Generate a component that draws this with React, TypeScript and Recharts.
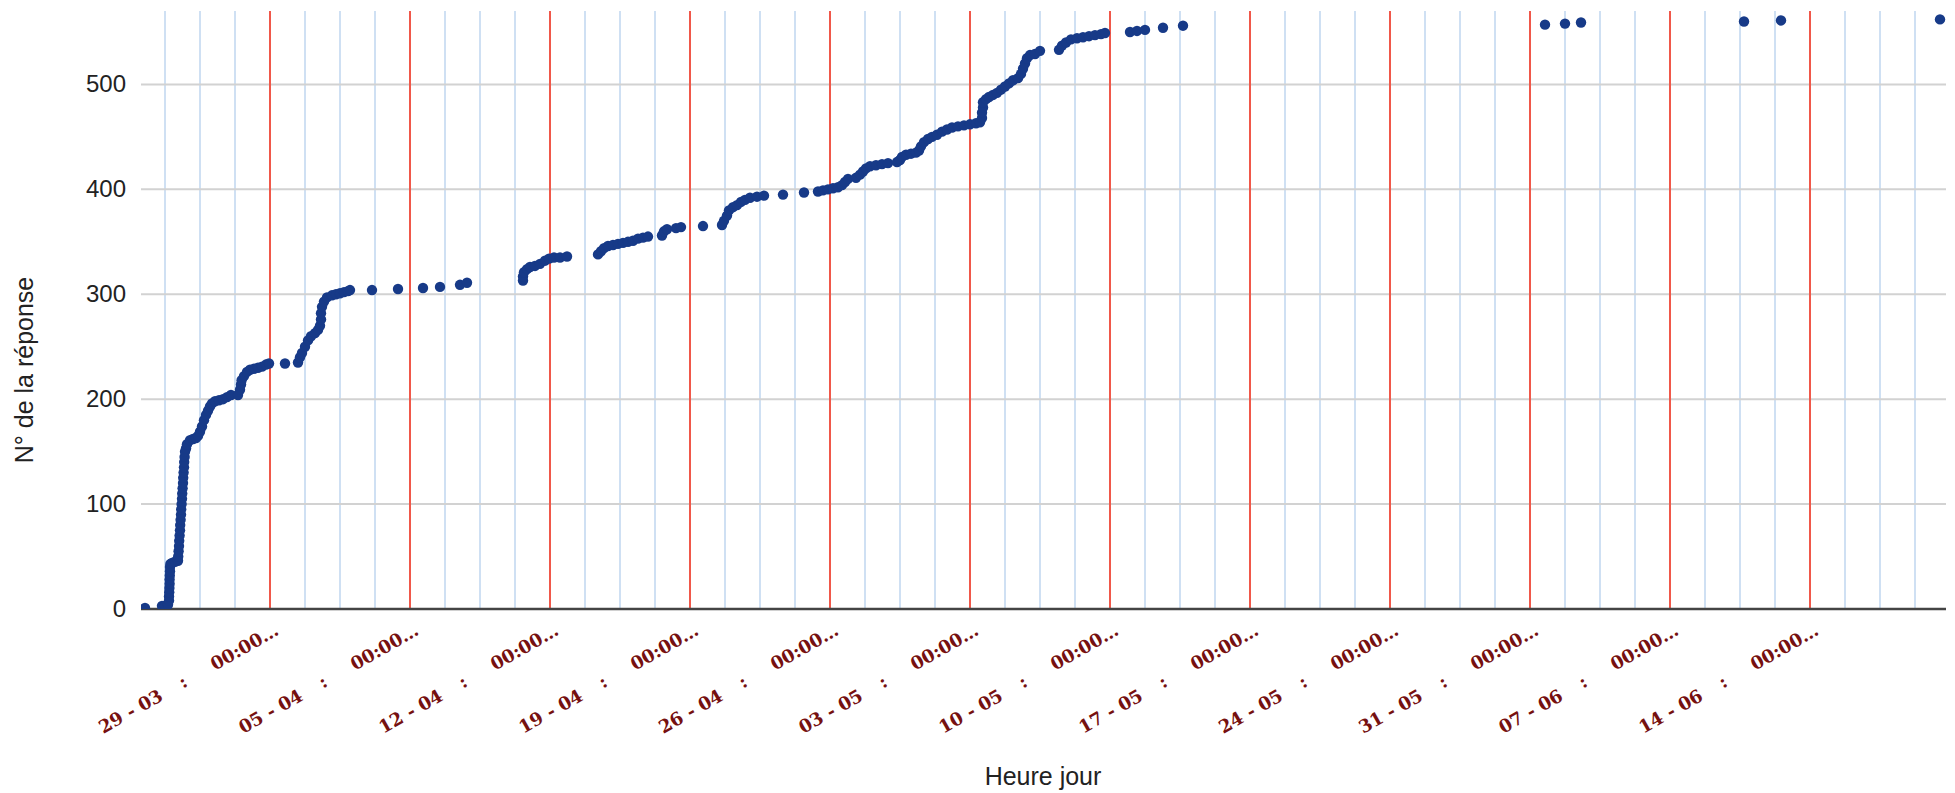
import React from 'react';
import { ScatterChart, Scatter, XAxis, YAxis, CartesianGrid, ReferenceLine } from 'recharts';

// x = days since 29-03 00:00, y = response number
const responseDays = [
  -6.25, -5.4, -5.25, -5.1, -5.05, -5.05, -5.04, -5.03, -5.02, -5.02, -5.01, -5.0, -5.0, -4.98, -4.9, -4.75, -4.6,
  -4.59, -4.57, -4.55, -4.54, -4.52, -4.5, -4.49, -4.47, -4.45, -4.44, -4.42, -4.4, -4.39, -4.37, -4.35, -4.34, -4.32, -4.3, -4.29, -4.27, -4.25,
  -4.2, -4.15, -4.0, -3.85, -3.7, -3.6,
  -3.5, -3.4, -3.3, -3.2, -3.1, -3.0, -2.9,
  -2.75, -2.55, -2.35, -2.15, -1.95,
  -1.6, -1.5, -1.45, -1.42, -1.3, -1.15, -1.0, -0.8, -0.6, -0.4, -0.2, -0.05,
  0.75,
  1.4, 1.5, 1.6, 1.75, 1.9, 2.05, 2.25, 2.4, 2.5, 2.55, 2.55, 2.6, 2.7, 2.85, 3.1, 3.3, 3.5, 3.7, 3.9, 4.0,
  5.1, 6.4, 7.65, 8.5, 9.5, 9.85,
  12.65, 12.65, 12.7, 12.85, 13.0, 13.25, 13.5, 13.75, 13.95, 14.2, 14.5, 14.85,
  16.4, 16.55, 16.7, 16.9, 17.15, 17.4, 17.65, 17.9, 18.15, 18.4, 18.65, 18.9,
  19.6, 19.7, 19.85, 20.3, 20.55,
  21.65,
  22.6, 22.7, 22.85, 22.95, 23.15, 23.35, 23.55, 23.75, 24.0, 24.35, 24.7,
  25.65, 26.7,
  27.4, 27.65, 27.9, 28.15, 28.4, 28.6, 28.75, 28.9,
  29.3, 29.5, 29.65, 29.8, 30.0, 30.3, 30.6, 30.9,
  31.35, 31.5, 31.6, 31.8, 32.05, 32.3, 32.45, 32.55, 32.7, 32.9, 33.1, 33.35, 33.6, 33.85, 34.1, 34.4, 34.7, 35.0, 35.3, 35.5,
  35.6, 35.6, 35.65, 35.65, 35.8, 35.95, 36.15, 36.35, 36.55, 36.75, 36.95, 37.15, 37.4, 37.55, 37.65, 37.75, 37.85, 38.0, 38.25, 38.5,
  39.45, 39.6, 39.8, 40.05, 40.35, 40.65, 40.95, 41.25, 41.55, 41.75,
  43.0, 43.35, 43.75, 44.65, 45.65,
  63.75, 64.75, 65.55, 73.7, 75.55, 83.5,
];

const responseNumbers = [
  1, 3, 3, 4, 8, 12, 16, 20, 24, 28, 32, 36, 40, 43, 44, 45, 46,
  50, 55, 60, 65, 70, 75, 80, 85, 90, 95, 100, 105, 110, 115, 120, 125, 130, 135, 140, 145, 150,
  153, 157, 161, 162, 163, 165,
  169, 174, 180, 185, 189, 193, 196,
  198, 199, 200, 202, 204,
  204, 209, 214, 218, 222, 226, 228, 229, 230, 231, 233, 234,
  234,
  235, 240, 244, 250, 256, 260, 263, 266, 270, 276, 282, 288, 293, 297, 299, 300, 301, 302, 303, 304,
  304, 305, 306, 307, 309, 311,
  313, 317, 321, 324, 326, 327, 329, 332, 334, 335, 335, 336,
  338, 341, 344, 346, 347, 348, 349, 350, 351, 353, 354, 355,
  356, 360, 362, 363, 364,
  365,
  366, 370, 375, 380, 383, 385, 388, 390, 392, 393, 394,
  395, 397,
  398, 399, 400, 401, 402, 404, 407, 410,
  411, 414, 417, 420, 422, 423, 424, 425,
  426, 428, 431, 433, 434, 435, 437, 441, 445, 448, 450, 452, 455, 457, 459, 460, 461, 462, 463, 464,
  468, 473, 478, 483, 486, 488, 490, 492, 495, 498, 501, 504, 506, 510, 515, 520, 525, 528, 529, 532,
  533, 537, 540, 543, 544, 545, 546, 547, 548, 549,
  550, 551, 552, 554, 556,
  557, 558, 559, 560, 561, 562,
];

const weekTicks = [0, 7, 14, 21, 28, 35, 42, 49, 56, 63, 70, 77];
const weekLabels = ['29 - 03', '05 - 04', '12 - 04', '19 - 04', '26 - 04', '03 - 05', '10 - 05', '17 - 05', '24 - 05', '31 - 05', '07 - 06', '14 - 06'];
const timeLabel = '00:00…';
const yTicks = [0, 100, 200, 300, 400, 500];
const xDomain = [-6.45, 83.8];
const yDomain = [0, 570];

// minor gridlines every quarter week
const gridTicks: number[] = [];
for (let i = -3; i <= 47; i++) gridTicks.push(i * 1.75);

const data = responseDays.map((d, i) => ({ d, n: responseNumbers[i] }));

const XTick = (props: any) => {
  const { x, payload } = props;
  const idx = weekTicks.indexOf(payload.value);
  if (idx < 0) return <g />;
  const ax = x + 10;
  const ay = 634;
  const style = { fontFamily: "'DejaVu Serif', Georgia, serif", fontWeight: 700, fontSize: 18, fill: '#761010' };
  return (
    <g transform={`translate(${ax},${ay}) rotate(-29.5)`}>
      <text x={0} y={0} textAnchor="end" style={style}>{timeLabel}</text>
      <text x={-108} y={0} textAnchor="middle" style={style}>:</text>
      <text x={-133} y={0} textAnchor="end" style={style}>{weekLabels[idx]}</text>
    </g>
  );
};

const YTick = (props: any) => {
  const { y, payload } = props;
  return (
    <text x={126} y={y} dy={8} textAnchor="end" style={{ fontFamily: "'Liberation Sans', Arial, sans-serif", fontSize: 24, fill: '#222' }}>
      {payload.value}
    </text>
  );
};

const YTitle = () => (
  <text x={33} y={370} transform="rotate(-90 33 370)" textAnchor="middle" style={{ fontFamily: "'Liberation Sans', Arial, sans-serif", fontSize: 25, fill: '#222' }}>
    N° de la réponse
  </text>
);

const XTitle = () => (
  <text x={1043} y={785} textAnchor="middle" style={{ fontFamily: "'Liberation Sans', Arial, sans-serif", fontSize: 25, fill: '#222' }}>
    Heure jour
  </text>
);

const Dot = (props: any) => <circle cx={props.cx} cy={props.cy} r={5.2} fill="#173a88" />;

export default function App() {
  return (
    <div style={{ position: 'absolute', left: 0, top: 0, background: '#fff' }}>
      <ScatterChart width={1955} height={793} margin={{ top: 11, right: 9, left: 0, bottom: 34 }}>
        <CartesianGrid horizontal={false} vertical={true} syncWithTicks stroke="#cfe0f3" strokeWidth={2} />
        <CartesianGrid horizontal={true} vertical={false} syncWithTicks stroke="#d2d2d2" strokeWidth={2} />
        {weekTicks.map((t) => (
          <ReferenceLine key={t} x={t} stroke="#f0584a" strokeWidth={2} />
        ))}
        <XAxis
          type="number"
          dataKey="d"
          domain={xDomain}
          allowDataOverflow
          ticks={gridTicks}
          interval={0}
          tick={<XTick />}
          tickLine={false}
          axisLine={{ stroke: '#444', strokeWidth: 2.5 }}
          height={150}
          label={<XTitle />}
        />
        <YAxis
          type="number"
          dataKey="n"
          domain={yDomain}
          allowDataOverflow
          ticks={yTicks}
          interval={0}
          tick={<YTick />}
          tickLine={false}
          axisLine={false}
          width={141}
          label={<YTitle />}
        />
        <Scatter data={data} shape={<Dot />} isAnimationActive={false} />
      </ScatterChart>
    </div>
  );
}
